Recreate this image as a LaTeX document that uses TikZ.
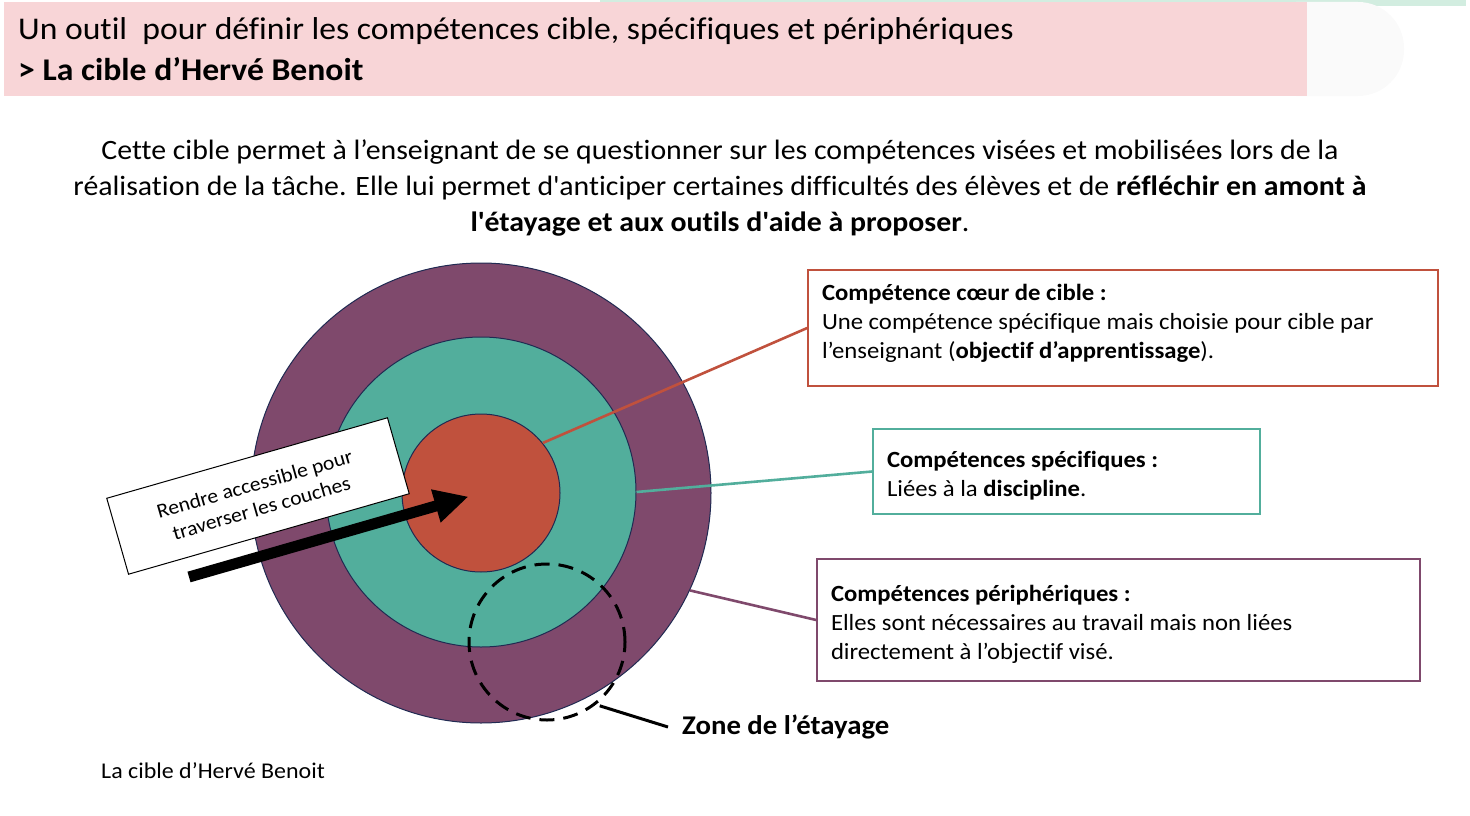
\documentclass[tikz,border=0pt]{standalone}
\usepackage{fontspec}
\setmainfont{Carlito}[FakeStretch=1.065, Ligatures=NoCommon]
\usepackage{tikz}
\usetikzlibrary{shapes,arrows.meta,calc}
\definecolor{headpink}{RGB}{248,213,215}
\definecolor{headgray}{RGB}{250,250,250}
\definecolor{headgreen}{RGB}{210,237,224}
\definecolor{ringedge}{RGB}{32,42,82}
\definecolor{outerplum}{RGB}{127,73,108}
\definecolor{midteal}{RGB}{82,174,156}
\definecolor{corered}{RGB}{192,81,61}
\tikzstyle{line} = [draw, line width=2.6pt]
\tikzstyle{ring} = [draw=ringedge, circle, inner sep=0pt, line width=1pt]
\tikzstyle{card} = [draw, rectangle, line width=1.6pt, align=flush left, inner xsep=14pt, inner ysep=0pt, font=\fontsize{23.2}{29}\selectfont]

\begin{document}
\begin{tikzpicture}[x=1pt, y=-1pt]
        \useasboundingbox (0,0) rectangle (1470,816);
        \fill[headgreen] (600,0) rectangle (1466,6);
        \fill[headgray, rounded corners=46pt] (1250,2) rectangle (1404,96);
        \fill[headpink] (4,2) rectangle (1307,96);
        \node[anchor=base west, inner sep=0pt, font=\fontsize{31.6}{36}\selectfont] (title) at (18,40) {Un outil\ \ pour définir les compétences cible, spécifiques et périphériques};
        \node[anchor=base west, inner sep=0pt, font=\fontsize{31.6}{36}\selectfont\bfseries] (subtitle) at (18,81) {> La cible d’Hervé Benoit};
        \node[align=center, font=\fontsize{28}{36}\selectfont] (intro) at (720,188) {Cette cible permet à l’enseignant de se questionner sur les compétences visées et mobilisées lors de la\\réalisation de la tâche. Elle lui permet d\textquotesingle anticiper certaines difficultés des élèves et de \textbf{réfléchir en amont à}\\\textbf{l\textquotesingle étayage et aux outils d\textquotesingle aide à proposer}.};
        \node[ring, fill=outerplum, minimum size=460pt] (outer) at (481,493) {};
        \node[ring, fill=midteal, minimum size=310pt] (middle) at (481,492) {};
        \node[ring, fill=corered, minimum size=158pt] (core) at (481,493) {};
        \node[circle, draw, line width=3pt, dash pattern=on 15pt off 9pt, minimum size=156pt, inner sep=0pt] (zone) at (547,642) {};
        \node[draw, fill=white, line width=1pt, rotate=16, minimum width=292pt, minimum height=79pt, align=center, font=\fontsize{20.3}{25}\selectfont] (access) at (258,496) {Rendre accessible pour\\traverser les couches};
        \coordinate (push) at (189,577);
        \draw[line width=11pt, -{Triangle[length=34pt,width=32pt]}, shorten >=13pt] (push) -- (core.center);
        \node[card, draw=corered, text width=602pt, minimum height=116pt] (coeur) at (1123,328) {\textbf{Compétence cœur de cible :}\\Une compétence spécifique mais choisie pour cible par\\l’enseignant (\textbf{objectif d’apprentissage}).\rule[-14pt]{0pt}{14pt}};
        \node[card, draw=midteal, text width=359pt, minimum height=85pt] (specif) at (1066.5,471.5) {\rule{0pt}{25pt}\textbf{Compétences spécifiques :}\\Liées à la \textbf{discipline}.};
        \node[card, draw=outerplum, text width=575pt, minimum height=122pt] (periph) at (1118.5,620) {\rule{0pt}{25pt}\textbf{Compétences périphériques :}\\Elles sont nécessaires au travail mais non liées\\directement à l’objectif visé.};
        \node[anchor=west, inner xsep=14pt, font=\fontsize{27}{30}\selectfont\bfseries] (zonelabel) at (668,727) {Zone de l’étayage};
        \node[anchor=base west, inner sep=0pt, font=\fontsize{22.5}{26}\selectfont] (caption) at (101,778) {La cible d’Hervé Benoit};
        \path[line, corered] (core.39) -- (coeur.west);
        \path[line, midteal] (middle.0) -- (specif.west);
        \path[line, outerplum] (outer.-25) -- (periph.west);
        \path[line, black, line width=3pt, shorten <=4pt] (zone.-52) -- (zonelabel.west);
    \end{tikzpicture}
\end{document}
